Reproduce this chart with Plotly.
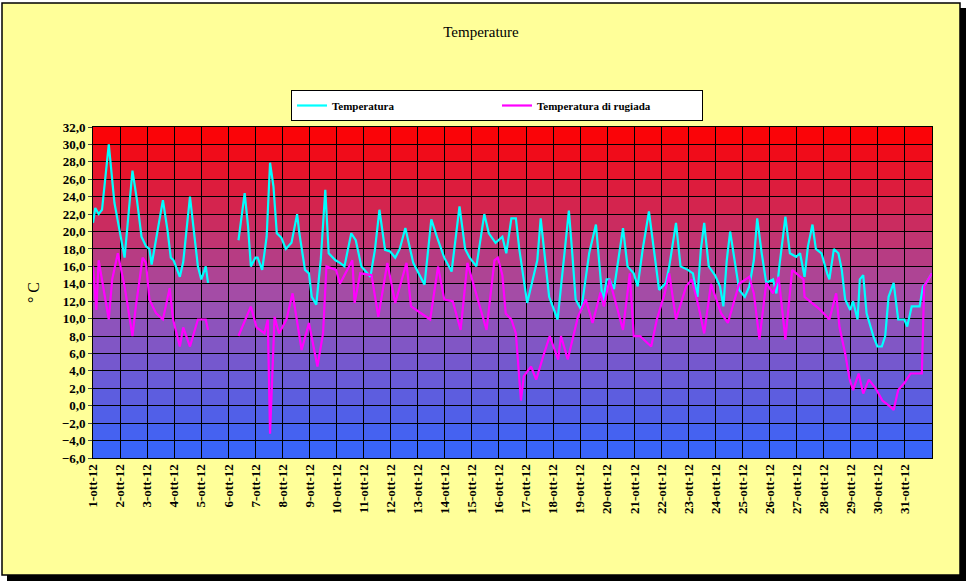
import plotly.graph_objects as go

temp_days = {
1: [(0,21),(2,22.7),(5,22),(8,22.5),(14,30),(19,23.3),(23,20.5)],
2: [(4,17),(11,27),(15,23.6),(19,19.4),(23,18.3)],
3: [(2,18),(4,16.2),(14,23.6),(18,20.2),(21,17),(23.5,16.7)],
4: [(5,14.8),(8,16.5),(14,24),(18,19.8),(21,16)],
5: [(0,14.5),(4,16),(6,14.1)],
6: [(9,19),(14.5,24.4),(17.5,20.6),(20,16)],
7: [(0,17),(2,17),(6,15.6),(10,19.4),(13,27.9),(16,25.2),(19,19.8),(23,19.3)],
8: [(3,18),(8,18.7),(13,22),(15,19.8),(20,15.6),(23.5,15.2)],
9: [(2,12.5),(6,11.6),(10,16.8),(14,24.8),(17,17.5),(23,16.7)],
10: [(3,16.4),(7,16),(13,19.8),(17,19),(22,16)],
11: [(6,14.8),(10,17.9),(14,22.5),(19,17.9),(23.5,17.7)],
12: [(4,17),(8,18),(13,20.4),(16,18.6),(20,16.4)],
13: [(6,13.9),(12,21.4),(18,19),(23.5,17)],
14: [(6,15.4),(13,22.9),(18,18),(22,17)],
15: [(4,16),(11,22),(15,19.8),(21,18.7)],
16: [(3,19.4),(6.5,17.5),(11,21.5),(15,21.5),(18,18),(21,15.2)],
17: [(1,11.8),(10,16.7),(13,21.5),(17,16.7),(20.5,12.5)],
18: [(4,9.9),(10,17.5),(14,22.4),(17,17.5),(20,12.2)],
19: [(1,11),(8,17.5),(14,20.8),(16.5,16.7),(20,11.8),(23.5,14.5)],
20: [(2,14.5),(6,13.4),(11,17.5),(14,20.4),(18,16),(23.5,15.2)],
21: [(3,13.7),(7.5,18),(13,22.3),(18,17.5),(22,13.3)],
22: [(4,14.1),(7,16),(13,21),(17,16),(23.5,15.6)],
23: [(4,15.2),(8,12.5),(11,17.9),(14,21),(18,16),(23.5,15)],
24: [(4,13.7),(7,11.4),(10,16.7),(13,20),(17,16.7),(21,13.3)],
25: [(2,12.5),(6,13.7),(10,16.7),(13,21.5),(17,17.5),(21,14.1)],
26: [(3,14.5),(6,12.9),(9,16.4),(14,21.7),(18,17.5),(23.5,17.1)],
27: [(3,17.5),(7,14.8),(10,18.3),(14,20.8),(17,18),(22,17.5)],
28: [(3,15.2),(5,14.5),(9,18),(13,17.5),(16,15.6),(19,12.2),(23.5,11)],
29: [(2,12),(6,9.9),(8,14.5),(11,15),(14,10.6),(20,8),(23.5,6.8)],
30: [(3.5,6.8),(6.5,8),(9.5,12.5),(14,14.1),(18,9.9),(23.5,9.9)],
31: [(2,9.1),(6,11.4),(13,11.4),(16,13.7),(19,14.1),(23.9,15.2)],
}
dew_days = {
1: [(0,16),(3,11),(5,16.7),(14,9.9),(17,14.5),(22,17.5)],
2: [(4,13.7),(11,8),(14,11.4),(17,14.5),(20,17),(23,16.4)],
3: [(2,12.2),(8,10.6),(14,9.9),(20,13.5),(23,9.9)],
4: [(5,6.8),(8,9),(14,6.8),(21,9.9)],
5: [(4,9.9),(6,8.7)],
6: [(9,8),(15,9.9),(20,11.4)],
7: [(1,9),(8,8.3),(11,9.9),(13,-3.2),(17,10.2),(21,8.3)],
8: [(3.5,9.9),(9,12.9),(17,6.4),(23.5,9.5)],
9: [(7,4.5),(12,8.3),(15,16),(23.5,15.6)],
10: [(3,14),(14,16.7),(16,11.8),(21,15.2)],
11: [(7,15),(13,10.2),(21,16.4)],
12: [(4,11.8),(14,16.4),(18,11.4)],
13: [(11,9.9),(18,16),(23.5,12.2)],
14: [(7,12),(14,8.7),(20,16.4)],
15: [(7,11.4),(13,8.7),(20,16.7),(23,17)],
16: [(3,15),(6,10.6),(11,9.9),(15,8.3),(19.5,0.6),(22,3.4)],
17: [(4.5,4.5),(9,3),(16,6),(21,8)],
18: [(4.5,5.3),(7,8),(13,5.3),(22,10.2)],
19: [(5,12.2),(11,9.5),(18,13),(21,11.4)],
20: [(2,14.5),(14,8.7),(20,15.2),(23.5,8)],
21: [(5,8),(15,6.8),(20,9.9)],
22: [(3,12.9),(7,15.2),(13,9.9),(22,13.7)],
23: [(3,14.5),(9,11.4),(14,8.3),(20,14)],
24: [(5,10.6),(11,9.5),(21,14)],
25: [(6,14.8),(10,12.9),(15,7.6),(21,14.1)],
26: [(3,12.9),(8,14.8),(14,7.6),(20,15.6)],
27: [(6,14.5),(7,12.5),(21,11)],
28: [(5,9.9),(11,12.9),(14,9),(19,6),(23,3)],
29: [(2,1.8),(7,3.7),(11,1.4),(16,3),(22,2)],
30: [(4,0.6),(11,-0.1),(14,-0.5),(18,1.8),(23.5,2.6)],
31: [(5,3.7),(15,3.7),(17,13.7),(23.9,15.2)],
}
gap_after_day = 5
tick_labels = [f"{d}-ott-12" for d in range(1, 32)]
y_ticks = list(range(-6, 33, 2))

def build(days):
    xs, ys = [], []
    for d in sorted(days):
        for h, v in days[d]:
            hh = int(h); mm = int(round((h - hh) * 60))
            xs.append(f"2012-10-{d:02d} {hh:02d}:{mm:02d}")
            ys.append(v)
        if d == gap_after_day:
            xs.append(f"2012-10-{d:02d} 12:00"); ys.append(None)
    return xs, ys

tx, ty = build(temp_days)
dx, dy = build(dew_days)

fig = go.Figure()
fig.add_trace(go.Scatter(x=tx, y=ty, mode="lines", name="Temperatura",
                         line=dict(color="#00FFFF", width=2.2), connectgaps=False))
fig.add_trace(go.Scatter(x=dx, y=dy, mode="lines", name="Temperatura di rugiada",
                         line=dict(color="#FF00FF", width=2.2), connectgaps=False))

W, H = 970, 584
L, T = 93, 127
pw, ph = 839, 331
R, B = W - L - pw, H - T - ph
def px(x): return (x - L) / pw
def py(y): return (H - B - y) / ph
shapes = []
shapes.append(dict(type="rect", xref="paper", yref="paper", x0=px(7), x1=px(966), y0=py(8), y1=py(581),
                   fillcolor="black", line=dict(width=0), layer="below"))
shapes.append(dict(type="rect", xref="paper", yref="paper", x0=px(2), x1=px(960), y0=py(3), y1=py(575),
                   fillcolor="#FFFF99", line=dict(color="black", width=1.5), layer="below"))
stops = [(32, (255, 0, 0)), (12, (160, 80, 175)), (-6, (51, 102, 255))]
def col(v):
    for (a, ca), (b, cb) in zip(stops, stops[1:]):
        if b <= v <= a:
            t = (a - v) / (a - b)
            return "rgb(%d,%d,%d)" % tuple(int(ca[i] + (cb[i] - ca[i]) * t) for i in range(3))
for k in range(-6, 32, 2):
    shapes.append(dict(type="rect", xref="x domain", yref="y", x0=0, x1=1, y0=k, y1=k + 2,
                       fillcolor=col(k + 1), line=dict(width=0), layer="below"))

fig.update_layout(
    width=W, height=H, margin=dict(l=L, r=R, t=T, b=B),
    paper_bgcolor="white", plot_bgcolor="rgba(0,0,0,0)",
    separators=",.", shapes=shapes, showlegend=True,
    font=dict(family="Liberation Serif", color="black"),
    title=dict(text="Temperature", x=px(481), xref="paper", xanchor="center",
               y=1 - 32 / H, yref="container", yanchor="middle",
               font=dict(size=15, family="Liberation Serif")),
    legend=dict(orientation="h", x=px(291), xanchor="left", y=py(90), yanchor="top",
                bgcolor="white", bordercolor="black", borderwidth=1,
                font=dict(size=11, family="Liberation Serif", weight="bold"),
                itemwidth=30, entrywidth=160, tracegroupgap=0),
    xaxis=dict(type="date", range=["2012-10-01", "2012-11-01"],
               tickvals=[f"2012-10-{d:02d}" for d in range(1, 32)], ticktext=tick_labels,
               tickangle=-90, showgrid=True, gridcolor="black", gridwidth=1,
               showline=True, linecolor="black", mirror=True, zeroline=False,
               tickfont=dict(size=13, family="Liberation Serif", weight="bold")),
    yaxis=dict(range=[-6, 32], tickvals=y_ticks, tickformat=".1f", showgrid=True,
               gridcolor="black", gridwidth=1, showline=True, linecolor="black", mirror=True,
               zeroline=False, ticks="outside", ticklen=4,
               tickfont=dict(size=13, family="Liberation Serif", weight="bold"),
               title=dict(text="° C", font=dict(size=16, family="Liberation Serif"), standoff=18)),
)
fig.write_html("out.html", config={"displayModeBar": False},
               post_script="document.body.style.margin='0';")
